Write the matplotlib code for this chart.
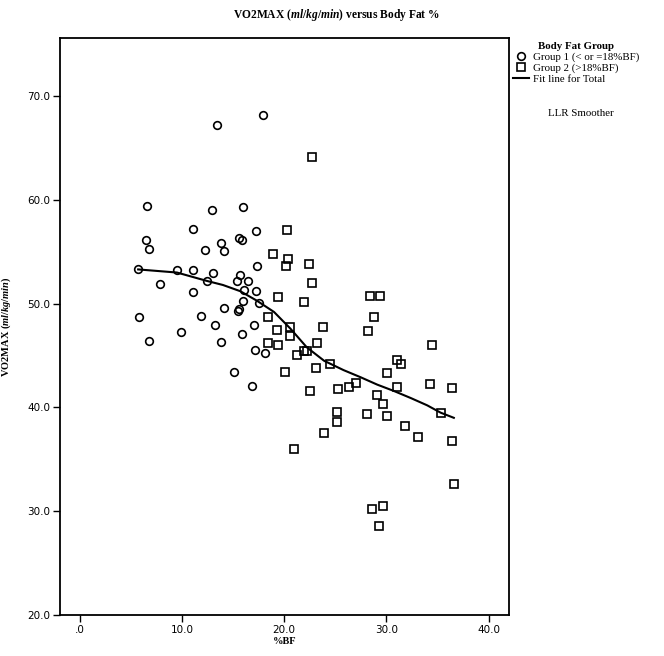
import numpy as np
import matplotlib
matplotlib.use("Agg")
from matplotlib import pyplot as plt

# Group 1 (< or =18%BF) - open circles
g1_bf = [17.9, 13.4, 6.6, 12.9, 16.0, 11.1, 17.2, 6.5, 6.8, 12.2, 13.8, 14.1,
         15.6, 15.9, 17.3, 5.7, 9.5, 11.1, 13.0, 7.8, 12.4, 15.7, 15.4, 16.5,
         11.1, 16.1, 17.2, 16.0, 17.5, 14.1, 15.6, 15.5, 5.8, 11.9, 13.2, 9.9,
         17.0, 15.9, 6.8, 13.8, 17.1, 18.1, 15.1, 16.8]
g1_vo2 = [68.2, 67.2, 59.4, 59.0, 59.3, 57.2, 57.0, 56.1, 55.3, 55.2, 55.8, 55.1,
          56.3, 56.1, 53.6, 53.3, 53.2, 53.2, 53.0, 51.9, 52.2, 52.8, 52.2, 52.2,
          51.1, 51.3, 51.2, 50.3, 50.1, 49.6, 49.5, 49.3, 48.7, 48.8, 47.9, 47.3,
          47.9, 47.1, 46.4, 46.3, 45.5, 45.2, 43.4, 42.1]

# Group 2 (>18%BF) - open squares
g2_bf = [22.7, 20.3, 18.9, 20.4, 20.2, 22.4, 22.7, 19.4, 21.9, 28.4, 29.4, 28.8,
         28.2, 18.4, 19.3, 20.6, 20.6, 23.8, 18.4, 19.4, 23.2, 21.2, 21.9, 22.2,
         24.5, 23.1, 20.1, 22.5, 25.3, 26.3, 27.0, 30.1, 29.1, 34.5, 31.0, 31.4,
         31.0, 34.3, 36.4, 35.3, 29.7, 30.1, 25.2, 25.2, 28.1, 31.8, 33.1, 23.9,
         21.0, 36.4, 36.6, 28.6, 29.7, 29.3]
g2_vo2 = [64.1, 57.1, 54.8, 54.3, 53.6, 53.8, 52.0, 50.6, 50.2, 50.7, 50.7, 48.7,
          47.4, 48.7, 47.5, 47.8, 46.9, 47.8, 46.2, 46.0, 46.2, 45.1, 45.4, 45.4,
          44.2, 43.8, 43.4, 41.6, 41.8, 42.0, 42.4, 43.3, 41.2, 46.0, 44.6, 44.2,
          42.0, 42.3, 41.9, 39.5, 40.3, 39.2, 39.6, 38.6, 39.4, 38.2, 37.2, 37.5,
          36.0, 36.8, 32.6, 30.2, 30.5, 28.6]

# LLR fit line
fit_bf = [5.7, 9.5, 12.4, 14.0, 15.7, 17.3, 19.0, 20.6, 22.2, 23.9, 25.8, 27.5,
          29.1, 30.7, 32.4, 34.0, 35.3, 36.6]
fit_vo2 = [53.3, 53.0, 52.2, 51.8, 51.2, 50.3, 49.2, 47.6, 45.8, 44.5, 43.6, 42.9,
           42.2, 41.6, 40.9, 40.2, 39.5, 39.0]

xticks = [0, 10, 20, 30, 40]
xticklabels = ['.0', '10.0', '20.0', '30.0', '40.0']
yticks = [20, 30, 40, 50, 60, 70]
yticklabels = ['20.0', '30.0', '40.0', '50.0', '60.0', '70.0']

serif = 'Liberation Serif'
plt.rcParams['mathtext.fontset'] = 'custom'
plt.rcParams['mathtext.rm'] = 'Liberation Serif:bold'
plt.rcParams['mathtext.it'] = 'Liberation Serif:italic:bold'
plt.rcParams['mathtext.bf'] = 'Liberation Serif:bold'

fig = plt.figure(figsize=(6.64, 6.56), dpi=100)
ax = fig.add_axes([60/664, 1 - 615/656, (509 - 60)/664, (615 - 38)/656])

ax.plot(g1_bf, g1_vo2, linestyle='none', marker='o', markersize=5.5,
        markerfacecolor='none', markeredgecolor='black', markeredgewidth=1.2,
        label='Group 1 (< or =18%BF)')
ax.plot(g2_bf, g2_vo2, linestyle='none', marker='s', markersize=5.2,
        markerfacecolor='none', markeredgecolor='black', markeredgewidth=1.2,
        label='Group 2 (>18%BF)')
ax.plot(fit_bf, fit_vo2, color='black', linewidth=1.5, label='Fit line for Total')

ax.set_xlim(-1.95, 42.0)
ax.set_ylim(20, 75.6)
ax.set_xticks(xticks)
ax.set_xticklabels(xticklabels)
ax.set_yticks(yticks)
ax.set_yticklabels(yticklabels)
ax.tick_params(direction='out', length=5, width=1, pad=2, labelsize=7.5, color='black')
for sp in ax.spines.values():
    sp.set_linewidth(1.3)

ax.set_xlabel('%BF', fontfamily=serif, fontweight='bold', fontsize=7.5, labelpad=2)
ax.set_ylabel(r'VO2MAX ($\mathit{ml/kg/min}$)', fontfamily=serif, fontweight='bold',
              fontsize=7.5, labelpad=10)

fig.text(0.506, 1 - 15/656, r'VO2MAX ($\mathit{ml/kg/min}$) versus Body Fat %',
         ha='center', va='center', fontfamily=serif, fontweight='bold', fontsize=8.3)

leg = ax.legend(loc='upper left', bbox_to_anchor=(1.0, 1.0), frameon=False,
                title='Body Fat Group', handlelength=1.4,
                handletextpad=0.4, labelspacing=0.1, borderaxespad=0,
                prop={'family': serif, 'size': 7.8})
leg.get_title().set_fontfamily(serif)
leg.get_title().set_fontweight('bold')
leg.get_title().set_fontsize(7.8)

fig.text(581/664, 1 - 113/656, 'LLR Smoother', ha='center', va='center',
         fontfamily=serif, fontsize=7.8)

fig.savefig('out.png', dpi=100)
